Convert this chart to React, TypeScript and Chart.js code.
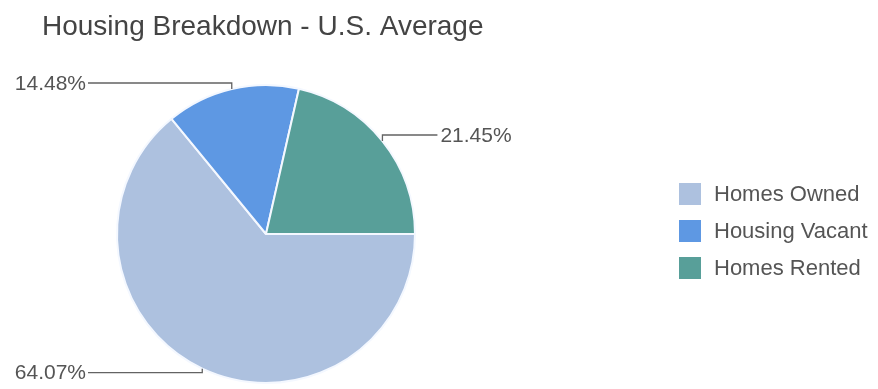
import React, { useEffect, useRef } from "react";
import { Chart, registerables } from "chart.js";

Chart.register(...registerables);

const titleText = "Housing Breakdown - U.S. Average";
const categories = ["Homes Owned", "Housing Vacant", "Homes Rented"];
const shares = [64.07, 14.48, 21.45];
const valueLabels = ["64.07%", "14.48%", "21.45%"];
const sliceColors = ["#adc1df", "#5e98e3", "#589f99"];

const FONT = "'Liberation Sans', Arial, sans-serif";

const decorPlugin = {
  id: "decor",
  afterDraw(chart: any) {
    const ctx = chart.ctx as CanvasRenderingContext2D;
    ctx.save();
    // title
    ctx.fillStyle = "#444444";
    ctx.font = `28px ${FONT}`;
    ctx.textAlign = "left";
    ctx.textBaseline = "middle";
    ctx.fillText(titleText, 42, 27);

    // legend
    ctx.font = `22px ${FONT}`;
    categories.forEach((c, i) => {
      const y = 194 + i * 37;
      ctx.fillStyle = sliceColors[i];
      ctx.fillRect(679, y - 11, 22, 22);
      ctx.fillStyle = "#555555";
      ctx.fillText(c, 714, y + 1);
    });

    // outside labels with leader lines
    const meta = chart.getDatasetMeta(0);
    const labelDy = [4, -6, -6];
    meta.data.forEach((arc: any, i: number) => {
      const p = arc.getProps(["x", "y", "startAngle", "endAngle", "outerRadius"], true);
      const mid = (p.startAngle + p.endAngle) / 2;
      const ex = p.x + Math.cos(mid) * p.outerRadius;
      const ey = p.y + Math.sin(mid) * p.outerRadius;
      const ly = ey + labelDy[i];
      const left = Math.cos(mid) < 0;
      ctx.strokeStyle = "#636363";
      ctx.lineWidth = 1.3;
      ctx.beginPath();
      ctx.moveTo(ex, ey);
      ctx.lineTo(ex, ly);
      ctx.lineTo(left ? 88 : ex + 55, ly);
      ctx.stroke();
      ctx.fillStyle = "#555555";
      ctx.font = `21px ${FONT}`;
      ctx.textAlign = left ? "right" : "left";
      ctx.fillText(valueLabels[i], left ? 86 : ex + 58, ly + 1);
    });
    ctx.restore();
  },
};

export default function App() {
  const ref = useRef<HTMLCanvasElement>(null);
  useEffect(() => {
    document.body.style.margin = "0";
    const chart = new Chart(ref.current!, {
      type: "pie",
      data: {
        labels: categories,
        datasets: [
          {
            data: shares,
            backgroundColor: sliceColors,
            borderColor: "#f4f8ff",
            borderWidth: 2,
          },
        ],
      },
      options: {
        animation: false,
        responsive: false,
        rotation: 90,
        layout: { padding: { top: 84, bottom: 5, left: 116, right: 462 } },
        plugins: {
          legend: { display: false },
          title: { display: false },
          tooltip: { enabled: false },
        },
      },
      plugins: [decorPlugin],
    });
    return () => chart.destroy();
  }, []);
  return (
    <div style={{ width: 878, height: 389, background: "#fff" }}>
      <canvas ref={ref} width={878} height={389} />
    </div>
  );
}
